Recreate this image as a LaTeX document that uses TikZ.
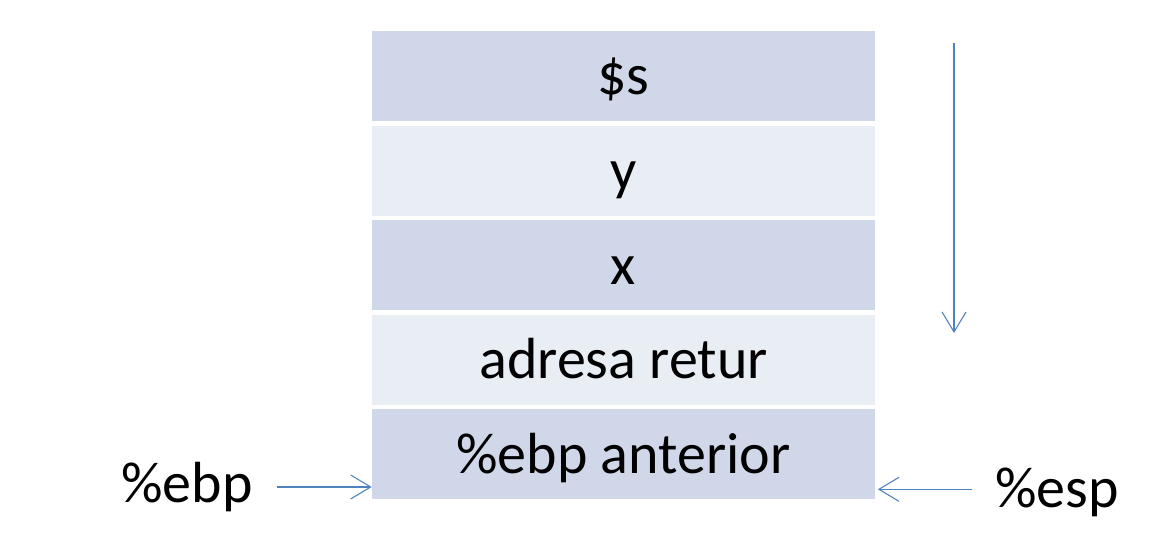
\documentclass[tikz,border=0pt]{standalone}
\usepackage{fontspec}
\setmainfont{Carlito}
\usetikzlibrary{positioning,arrows.meta}
\definecolor{celdaosc}{HTML}{D0D7E8}
\definecolor{celdacla}{HTML}{E9EDF4}
\definecolor{azulflecha}{HTML}{4F81BD}
\begin{document}
\begin{tikzpicture}[x=0.75pt,y=0.75pt]
\tikzset{
    celda/.style={minimum width=377.25pt, minimum height=67.5pt, inner sep=0pt, text height=31pt, text depth=2.5pt, text centered, font=\fontsize{43.5}{50}\selectfont},
    etiqueta/.style={text centered, inner sep=0pt, font=\fontsize{43.5}{50}\selectfont},
    flecha/.style={draw=azulflecha, line width=0.8pt, -{Straight Barb[length=15pt, width=18pt, line width=0.8pt]}}
}
\useasboundingbox (0,0) rectangle (1165,542);
\node[celda, fill=celdaosc] (s) at (623.5,466) {\$s};
\node[celda, fill=celdacla, below=3pt of s] (y) {y};
\node[celda, fill=celdaosc, below=3pt of y] (x) {x};
\node[celda, fill=celdacla, below=3pt of x] (ret) {adresa retur};
\node[celda, fill=celdaosc, below=3pt of ret] (ebpant) {\%ebp anterior};
\node[etiqueta] (ebp) at (187,55) {\%ebp};
\node[etiqueta] (esp) at (1057,50) {\%esp};
\coordinate (arriba) at (954,499);
\coordinate (abajo) at (954,209);
\draw[flecha] ([xshift=18pt]ebp.east) -- (ebp.east -| ebpant.west);
\draw[flecha] ([xshift=-17pt,yshift=2pt]esp.west) -- ([xshift=2pt,yshift=2pt]esp.west -| ebpant.east);
\draw[flecha] (arriba) -- (abajo);
\end{tikzpicture}
\end{document}
